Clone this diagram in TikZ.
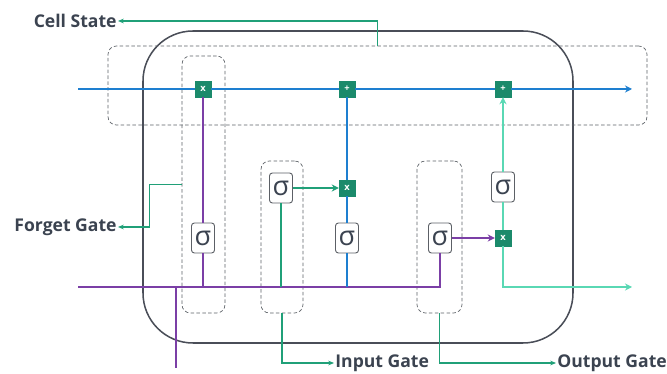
\documentclass[tikz,border=0pt]{standalone}
\usepackage{fontspec}
\setsansfont{Open Sans}
\usetikzlibrary{arrows.meta,fit}
\definecolor{txtgray}{HTML}{3B4350}
\definecolor{boxgray}{HTML}{4A4E58}
\definecolor{dashgray}{HTML}{5C6066}
\definecolor{gatecol}{HTML}{20A078}
\definecolor{opfill}{HTML}{1B8A6B}
\definecolor{cellblue}{HTML}{1E7FD0}
\definecolor{hidpurple}{HTML}{7B3FA6}
\definecolor{outmint}{HTML}{5AD8B4}
\newcommand{\sig}{σ}

\begin{document}
\begin{tikzpicture}[x=0.03cm, y=-0.03cm,
    label/.style={font=\sffamily\bfseries\fontsize{15}{15}\selectfont, text=txtgray, inner sep=1pt},
    op/.style={fill=opfill, draw=opfill, minimum size=0.48cm, inner sep=0pt,
      text=white, font=\sffamily\bfseries\fontsize{8}{8}\selectfont},
    sbox/.style={draw=dashgray, fill=white, rounded corners=2.5pt, line width=0.8pt,
      minimum width=0.69cm, minimum height=0.9cm, inner sep=0pt,
      text=txtgray, font=\sffamily\fontsize{23}{23}\selectfont},
    gatebox/.style={draw=dashgray, dash pattern=on 3pt off 2pt, rounded corners=0.25cm,
      inner sep=0pt, line width=0.6pt},
    conn/.style={draw=gatecol, line width=1pt, -{Stealth[length=5pt,width=4pt]}},
    cline/.style={draw=cellblue, line width=1.2pt},
    hline/.style={draw=hidpurple, line width=1.2pt},
    mline/.style={draw=outmint, line width=1.2pt},
    tip/.style={-{Stealth[length=6pt,width=6pt]}}]
  \useasboundingbox (0,0) rectangle (667,374);

  % the cell and the gate regions
  \node[draw=boxgray, line width=1.3pt, rounded corners=1.5cm, inner sep=0pt,
    fit={(143,31) (573,343)}] (lstm) {};
  \node[gatebox, fit={(108,46) (647,125)}] (csbox) {};
  \node[gatebox, fit={(182,56) (225,313)}] (fgbox) {};
  \node[gatebox, fit={(261,161) (303,313)}] (igbox) {};
  \node[gatebox, fit={(417,161) (462,313)}] (ogbox) {};

  % operations
  \node[op] (fx) at (203,89) {x};
  \node[op] (ip) at (347,89) {+};
  \node[op] (op) at (503,89) {+};
  \node[op] (ix) at (347,188) {x};
  \node[op] (ox) at (503,238) {x};
  \node[sbox] (fs) at (203,238) {\sig};
  \node[sbox] (is1) at (281,188) {\sig};
  \node[sbox] (is2) at (347,238) {\sig};
  \node[sbox] (os) at (440,238) {\sig};
  \node[sbox] (ot) at (503,187) {\sig};

  % ends of the lines
  \coordinate (cin) at (78,89);
  \coordinate (cout) at (632,89);
  \coordinate (hin) at (78,287);
  \coordinate (hout) at (632,287);
  \coordinate (xin) at (176,368);

  % labels
  \node[label, anchor=east] (cs) at (118,21) {Cell State};
  \node[label, anchor=east] (fg) at (118,227) {Forget Gate};
  \node[label, anchor=west] (ig) at (334,363) {Input Gate};
  \node[label, anchor=west] (og) at (556,363) {Output Gate};

  % cell state
  \draw[cline, tip] (cin) -- (fx) -- (ip) -- (op) -- (cout);

  % hidden state and input
  \draw[hline] (hin) -| (os);
  \draw[hline] (xin) -- (xin |- hin);
  \draw[hline] (fx) -- (fs);
  \draw[hline] (fs) -- (fs |- hin);

  % input gate
  \draw[draw=gatecol, line width=1.2pt] (is1) -- (is1 |- hin);
  \draw[draw=gatecol, line width=1.2pt, tip] (is1) -- (ix);
  \draw[cline] (ip) -- (ix) -- (is2) -- (is2 |- hin);

  % output gate
  \draw[hline, tip] (os) -- (ox);
  \draw[mline, tip] (ox) -- (ot) -- (op);
  \draw[mline, tip] (ox) |- (hout);

  % labels to the gates
  \draw[conn] (csbox.north) |- (cs);
  \draw[conn] (fgbox.west) -- ++(-32,0) |- (fg);
  \draw[conn] (igbox.south) |- (ig);
  \draw[conn] (ogbox.south) |- (og);
\end{tikzpicture}
\end{document}
